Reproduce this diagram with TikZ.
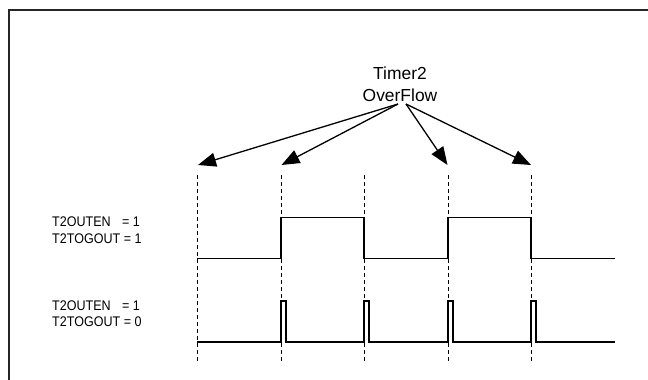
\documentclass[tikz,border=0pt]{standalone}
\usepackage{fontspec}
\usepackage{graphicx}
\setmainfont{Liberation Sans}
\usetikzlibrary{arrows.meta}
\newcommand{\cond}[1]{\scalebox{0.9}[1]{#1}}
\begin{document}
\begin{tikzpicture}[x=1bp,y=-1bp,
  frameline/.style={line width=2bp,black!85},
  guide/.style={line width=0.9bp,dash pattern=on 4bp off 3bp},
  wave/.style={line width=1.5bp},
  ovfarrow/.style={line width=1.3bp,-{Triangle[length=18bp,width=14bp]}},
  titletext/.style={inner sep=0pt,align=center,font=\fontsize{17.5}{22}\selectfont},
  labeltext/.style={inner sep=0pt,anchor=west,align=left,font=\fontsize{14}{16.5}\selectfont}]
\useasboundingbox (0,0) rectangle (648,379);
% frame
\draw[frameline] (8.5,381) -- (8.5,9.5) -- (650,9.5);
% title
\node[titletext] (ovf) at (400,84) {Timer2\\OverFlow};
\coordinate (s1) at (398,104);
\coordinate (s2) at (406,104);
\coordinate (t1) at (198,165);
\coordinate (t2) at (281.5,165);
\coordinate (t3) at (447.5,165);
\coordinate (t4) at (531,165);
\draw[ovfarrow] (s1) -- (t1);
\draw[ovfarrow] (s1) -- (t2);
\draw[ovfarrow] (s2) -- (t3);
\draw[ovfarrow] (s2) -- (t4);
% dashed guides
\foreach \i/\x in {1/197,2/281,3/364,4/448,5/531}{
  \coordinate (g\i a) at (\x,175);
  \coordinate (g\i b) at (\x,363);
  \draw[guide] (g\i a) -- (g\i b);
}
% labels
\node[labeltext] (lab1) at (52,230) {\cond{T2OUTEN\hspace{0.9em}= 1}\\\cond{T2TOGOUT = 1}};
\node[labeltext] (lab2) at (52,313.5) {\cond{T2OUTEN\hspace{0.9em}= 1}\\\cond{T2TOGOUT = 0}};
% waveform 1 (toggle)
\draw[wave] (197,258.5) -- (281,258.5) -- (281,217.5) -- (364,217.5) -- (364,258.5)
  -- (448,258.5) -- (448,217.5) -- (531,217.5) -- (531,258.5) -- (615,258.5);
% waveform 2 (pulses)
\draw[wave] (197,342) -- (281,342) -- (281,301) -- (286,301) -- (286,342)
  -- (364,342) -- (364,301) -- (369,301) -- (369,342)
  -- (448,342) -- (448,301) -- (453,301) -- (453,342)
  -- (531,342) -- (531,301) -- (536,301) -- (536,342) -- (615,342);
\end{tikzpicture}
\end{document}
